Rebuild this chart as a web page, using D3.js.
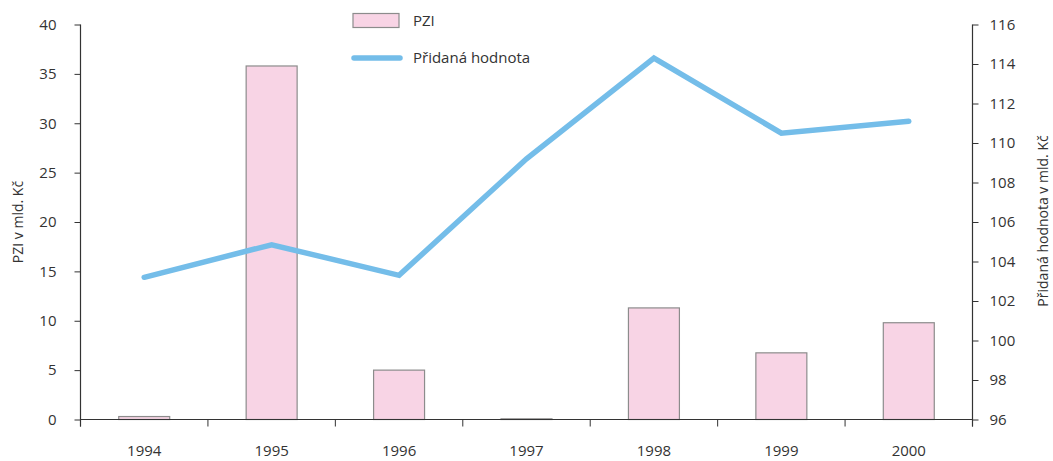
<!DOCTYPE html>
<html><head><meta charset="utf-8">
<script src="https://cdn.jsdelivr.net/npm/d3@7"></script>
<style>
html,body{margin:0;padding:0;background:#fff;}
svg text{font-family:"Open Sans",sans-serif;fill:#333;}
</style></head>
<body><svg id="c" width="1053" height="461"></svg>
<script>
const years = ["1994","1995","1996","1997","1998","1999","2000"];
const pziValues = [0.3, 35.8, 5.0, 0.07, 11.3, 6.75, 9.8];
const addedValues = [103.2, 104.85, 103.3, 109.2, 114.3, 110.5, 111.1];
const leftTicks = [0,5,10,15,20,25,30,35,40];
const rightTicks = [96,98,100,102,104,106,108,110,112,114,116];
const legendLabels = ["PZI","Přidaná hodnota"];
const leftTitle = "PZI v mld. Kč";
const rightTitle = "Přidaná hodnota v mld. Kč";

const svg = d3.select("#c");
const L = 80.5, R = 972.5, T = 24.5, B = 419.5;
const x = d3.scaleBand().domain(years).range([L, R]).padding(0);
const yL = d3.scaleLinear().domain([0,40]).range([B, T]);
const yR = d3.scaleLinear().domain([96,116]).range([B, T]);
const axisColor = "#333";
const fs = "15px";

// bars
const bw = x.bandwidth()*0.4;
svg.append("g").selectAll("rect").data(years).join("rect")
  .attr("x", d => x(d) + x.bandwidth()/2 - bw/2)
  .attr("width", bw)
  .attr("y", (d,i) => yL(pziValues[i]))
  .attr("height", (d,i) => B - yL(pziValues[i]))
  .attr("fill", "#f8d4e5").attr("stroke", "#8c8c8c").attr("stroke-width", 1.2);

// line
const line = d3.line().x(d => x(d[0]) + x.bandwidth()/2).y(d => yR(d[1]));
svg.append("path").datum(years.map((y,i)=>[y, addedValues[i]]))
  .attr("d", line).attr("fill","none").attr("stroke","#74bde9")
  .attr("stroke-width",5.5).attr("stroke-linecap","round").attr("stroke-linejoin","miter");

// left axis
const gl = svg.append("g").attr("transform",`translate(${L},0)`)
  .call(d3.axisLeft(yL).tickValues(leftTicks).tickSize(6).tickPadding(18).tickSizeOuter(0));
gl.select(".domain").attr("d", `M0,${T}V${B+7}`);
// right axis
const gr = svg.append("g").attr("transform",`translate(${R},0)`)
  .call(d3.axisRight(yR).tickValues(rightTicks).tickSize(6).tickPadding(11).tickSizeOuter(0));
gr.select(".domain").attr("d", `M0,${T}V${B+7}`);
// bottom axis
const gb = svg.append("g").attr("transform",`translate(0,${B})`)
  .call(d3.axisBottom(x).tickSize(0).tickPadding(26));
gb.select(".domain").attr("d", `M${L},0H${R}`);
gb.selectAll(".bd").data(years.concat(["end"])).join("line").attr("class","bd")
  .attr("x1", (d,i) => i < years.length ? x(d) : R)
  .attr("x2", (d,i) => i < years.length ? x(d) : R)
  .attr("y1",0).attr("y2",7).attr("stroke",axisColor);

[gl,gr,gb].forEach(g=>{
  g.selectAll(".domain").attr("stroke",axisColor).attr("stroke-width",1.2);
  g.selectAll(".tick line").attr("stroke",axisColor);
  g.selectAll("text").style("font-family",'"Open Sans",sans-serif').style("font-size",fs).attr("fill","#333");
});

// axis titles
svg.append("text").attr("transform","translate(23,222) rotate(-90)")
  .attr("text-anchor","middle").style("font-size","14px").text(leftTitle);
svg.append("text").attr("transform","translate(1048,221) rotate(-90)")
  .attr("text-anchor","middle").style("font-size","14px").text(rightTitle);

// legend
const lg = svg.append("g");
lg.append("rect").attr("x",353).attr("y",13.5).attr("width",46).attr("height",14)
  .attr("fill","#f8d4e5").attr("stroke","#8c8c8c").attr("stroke-width",1.2);
lg.append("text").attr("x",413).attr("y",26).style("font-size","15px").text(legendLabels[0]);
lg.append("line").attr("x1",354).attr("x2",400).attr("y1",58).attr("y2",58)
  .attr("stroke","#74bde9").attr("stroke-width",5.5).attr("stroke-linecap","round");
lg.append("text").attr("x",413).attr("y",63).style("font-size","15px").text(legendLabels[1]);
</script></body></html>
